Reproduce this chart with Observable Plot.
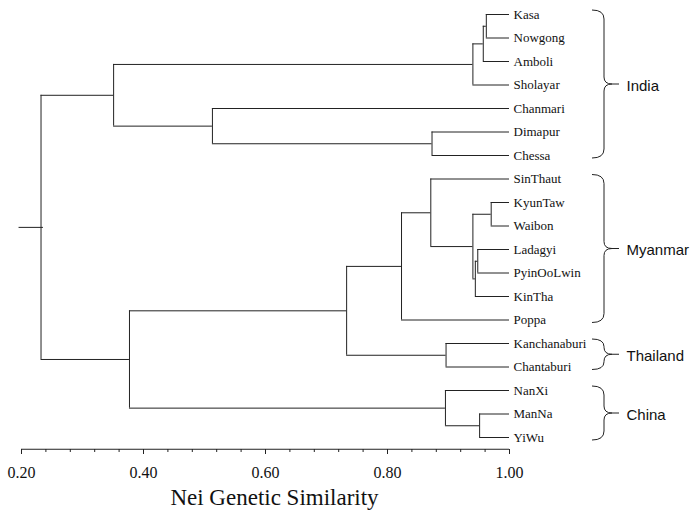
<!DOCTYPE html>
<html><head><meta charset="utf-8">
<script src="https://cdn.jsdelivr.net/npm/d3@7"></script>
<script src="https://cdn.jsdelivr.net/npm/@observablehq/plot@0.6"></script>
<style>body{margin:0;background:#fff}</style>
</head><body><div id="chart"></div>
<script>
// Leaves (top to bottom)
const leaves = ["Kasa","Nowgong","Amboli","Sholayar","Chanmari","Dimapur","Chessa","SinThaut","KyunTaw","Waibon","Ladagyi","PyinOoLwin","KinTha","Poppa","Kanchanaburi","Chantaburi","NanXi","ManNa","YiWu"];
// Merges: cluster "c"+(i+1) joins mergeA[i] and mergeB[i] at similarity mergeSim[i]
const mergeA = ["Kasa","c1","c2","Dimapur","Chanmari","c3","KyunTaw","Ladagyi","c8","c7","SinThaut","c11","Kanchanaburi","c12","ManNa","NanXi","c14","c6"];
const mergeB = ["Nowgong","Amboli","Sholayar","Chessa","c4","c5","Waibon","PyinOoLwin","KinTha","c9","c10","Poppa","Chantaburi","c13","YiWu","c15","c16","c17"];
const mergeSim = [0.962,0.957,0.940,0.873,0.513,0.351,0.970,0.948,0.944,0.940,0.871,0.823,0.896,0.733,0.951,0.895,0.377,0.232];
// Groups
const groupNames = ["India","Myanmar","Thailand","China"];
const groupFirst = ["Kasa","SinThaut","Kanchanaburi","NanXi"];
const groupLast = ["Chessa","Poppa","Chantaburi","YiWu"];
// Axis ticks
const majorTicks = [0.2,0.4,0.6,0.8,1.0];
const tickLabels = ["0.20","0.40","0.60","0.80","1.00"];
const minorTicks = [0.24,0.28,0.32,0.36,0.44,0.48,0.52,0.56,0.64,0.68,0.72,0.76,0.84,0.88,0.92,0.96];
const axisTitle = "Nei Genetic Similarity";

// Build node positions
const pos = {};
leaves.forEach((n,i) => pos[n] = {x: 1.0, y: i});
const verticals = [], horizontals = [];
mergeSim.forEach((s,i) => {
  const a = pos[mergeA[i]], b = pos[mergeB[i]];
  verticals.push({x: s, y1: a.y, y2: b.y});
  horizontals.push({y: a.y, x1: a.x, x2: s});
  horizontals.push({y: b.y, x1: b.x, x2: s});
  pos["c"+(i+1)] = {x: s, y: (a.y+b.y)/2};
});
const root = pos["c"+mergeSim.length];
horizontals.push({y: root.y, x1: root.x - 0.036, x2: root.x + 0.004});
const leafIndex = Object.fromEntries(leaves.map((n,i)=>[n,i]));

function braces(index, scales) {
  const x = scales.x, y = scales.y;
  const ns = "http://www.w3.org/2000/svg";
  const g = document.createElementNS(ns, "g");
  const x0 = x(1.0);
  groupNames.forEach((name,i) => {
    const top = y(leafIndex[groupFirst[i]]) - 4;
    const bot = y(leafIndex[groupLast[i]]) + 3;
    const mid = (top + bot) / 2;
    const a = x0 + 83, b = x0 + 95, c = x0 + 103, d = x0 + 110;
    const r1 = Math.min(9, (mid - top) / 2), r2 = Math.min(7, (mid - top) / 2);
    const p = d3.path();
    p.moveTo(a, top);
    p.quadraticCurveTo(b, top, b, top + r1);
    p.lineTo(b, mid - r2);
    p.quadraticCurveTo(b, mid, c, mid);
    p.quadraticCurveTo(b, mid, b, mid + r2);
    p.lineTo(b, bot - r1);
    p.quadraticCurveTo(b, bot, a, bot);
    p.moveTo(c, mid);
    p.lineTo(d, mid);
    const el = document.createElementNS(ns, "path");
    el.setAttribute("d", p.toString());
    el.setAttribute("fill", "none");
    el.setAttribute("stroke", "#222");
    el.setAttribute("stroke-width", "1");
    g.appendChild(el);
  });
  return g;
}

const serif = "'Liberation Serif', 'Times New Roman', serif";
const sans = "'Liberation Sans', Arial, sans-serif";

const chart = Plot.plot({
  width: 691, height: 515,
  marginLeft: 21, marginRight: 182, marginTop: 0, marginBottom: 66,
  x: {domain: [0.2, 1.0], axis: null},
  y: {domain: [0, leaves.length - 1], range: [14, 437], axis: null},
  style: {background: "white"},
  marks: [
    Plot.ruleX(verticals, {x: "x", y1: "y1", y2: "y2", stroke: "#222", strokeWidth: 1}),
    Plot.ruleY(horizontals, {y: "y", x1: "x1", x2: "x2", stroke: "#222", strokeWidth: 1}),
    Plot.text(leaves, {x: () => 1.0, y: (d,i) => i, text: d => d, dx: 4, textAnchor: "start", fontFamily: serif, fontSize: 13, fill: "#111"}),
    braces,
    Plot.text(groupNames, {x: () => 1.0, y: (d,i) => (leafIndex[groupFirst[i]] + leafIndex[groupLast[i]]) / 2, text: d => d, dx: 117, dy: 1, textAnchor: "start", fontFamily: sans, fontSize: 15, fill: "#111"}),
    Plot.ruleY([leaves.length - 0.5], {stroke: "#222", strokeWidth: 1}),
    Plot.axisX(minorTicks, {tickSize: 3, tickFormat: () => "", stroke: "#222"}),
    Plot.axisX(majorTicks, {tickSize: 5, tickPadding: 12, tickFormat: d => tickLabels[majorTicks.indexOf(d)], fontSize: 16, fontFamily: serif, fill: "#111", stroke: "#222"}),
    Plot.text([axisTitle], {frameAnchor: "bottom", text: d => d, dx: 9, dy: 55, fontSize: 23, fontFamily: serif, fill: "#111"})
  ]
});
document.getElementById("chart").appendChild(chart);
</script>
</body></html>
